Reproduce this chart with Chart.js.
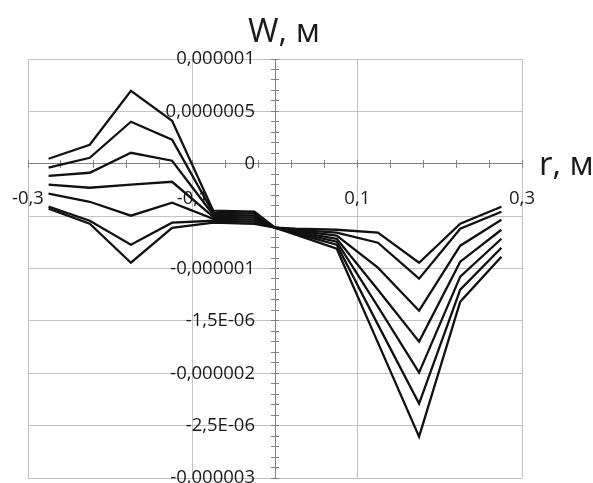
<!DOCTYPE html>
<html>
<head>
<meta charset="utf-8">
<script src="https://cdn.jsdelivr.net/npm/chart.js@4.4.0/dist/chart.umd.min.js"></script>
<style>
  body { margin: 0; background: #fff; }
</style>
</head>
<body>
<canvas id="deflection" width="593" height="483"></canvas>
<script>
// radius, m
const rValues = [-0.275, -0.225, -0.175, -0.125, -0.075, -0.025, 0, 0.025, 0.075, 0.125, 0.175, 0.225, 0.275];

// deflection W, m (one curve per load case)
const w1 = [0.048e-6, 0.181e-6, 0.697e-6, 0.410e-6, -0.448e-6, -0.458e-6, -0.61e-6, -0.677e-6, -0.811e-6, -1.708e-6, -2.605e-6, -1.317e-6, -0.887e-6];
const w2 = [-0.038e-6, 0.057e-6, 0.401e-6, 0.229e-6, -0.468e-6, -0.477e-6, -0.61e-6, -0.668e-6, -0.773e-6, -1.536e-6, -2.290e-6, -1.202e-6, -0.802e-6];
const w3 = [-0.115e-6, -0.086e-6, 0.105e-6, 0.029e-6, -0.487e-6, -0.496e-6, -0.61e-6, -0.658e-6, -0.744e-6, -1.365e-6, -1.994e-6, -1.078e-6, -0.716e-6];
const w4 = [-0.200e-6, -0.229e-6, -0.200e-6, -0.172e-6, -0.506e-6, -0.515e-6, -0.61e-6, -0.649e-6, -0.716e-6, -1.202e-6, -1.698e-6, -0.935e-6, -0.630e-6];
const w5 = [-0.286e-6, -0.363e-6, -0.496e-6, -0.372e-6, -0.525e-6, -0.534e-6, -0.61e-6, -0.639e-6, -0.687e-6, -0.992e-6, -1.403e-6, -0.782e-6, -0.534e-6];
const w6 = [-0.410e-6, -0.544e-6, -0.773e-6, -0.563e-6, -0.544e-6, -0.553e-6, -0.61e-6, -0.630e-6, -0.658e-6, -0.754e-6, -1.097e-6, -0.620e-6, -0.458e-6];
const w7 = [-0.429e-6, -0.573e-6, -0.945e-6, -0.611e-6, -0.563e-6, -0.573e-6, -0.61e-6, -0.620e-6, -0.630e-6, -0.658e-6, -0.945e-6, -0.573e-6, -0.410e-6];

const xTicks = [-0.3, -0.1, 0.1, 0.3];
const xTickLabels = ['-0,3', '-0,1', '0,1', '0,3'];
const yTicks = [1e-6, 5e-7, 0, -5e-7, -1e-6, -1.5e-6, -2e-6, -2.5e-6, -3e-6];
const yTickLabels = ['0,000001', '0,0000005', '0', '', '-0,000001', '-1,5E-06', '-0,000002', '-2,5E-06', '-0,000003'];

const gridGray = '#c2c2c2';
const axisGray = '#838383';
const textColor = '#1a1a1a';
const tickFont = { family: '"Open Sans"', size: 18.5 };

// minor tick marks (axis decoration only)
const xMinor = Array.from({ length: 16 }, (_, k) => -0.3 + 0.04 * k);
const yMinor = Array.from({ length: 41 }, (_, k) => -3e-6 + 1e-7 * k);

const setTicks = values => scale => { scale.ticks = values.map(value => ({ value })); };
const noSpace = scale => {
  if (scale.isHorizontal()) scale.height = 0; else scale.width = 0;
  scale.paddingLeft = scale.paddingRight = scale.paddingTop = scale.paddingBottom = 0;
};
const labelFor = (ticks, labels) => v => {
  const i = ticks.findIndex(t => Math.abs(t - v) < 1e-12);
  return i < 0 ? '' : labels[i];
};

function minorScale(axis, values, position, len) {
  return {
    axis, type: 'linear', position,
    min: axis === 'x' ? -0.3 : -3e-6,
    max: axis === 'x' ? 0.3 : 1e-6,
    afterBuildTicks: setTicks(values),
    afterFit: noSpace,
    grid: { drawOnChartArea: false, drawTicks: true, tickLength: len, tickColor: axisGray, tickWidth: 1 },
    border: { display: false },
    ticks: { display: false }
  };
}

const axisTitles = {
  id: 'axisTitles',
  afterDraw(chart) {
    const { ctx, chartArea, scales } = chart;
    ctx.save();
    ctx.fillStyle = textColor;
    ctx.font = '33px "Open Sans"';
    ctx.textBaseline = 'alphabetic';
    ctx.textAlign = 'center';
    ctx.fillText('W, м', scales.x.getPixelForValue(0) + 9, chartArea.top - 17);
    ctx.textAlign = 'left';
    ctx.fillText('r, м', chartArea.right + 17, scales.y.getPixelForValue(0) + 11);
    ctx.restore();
  }
};

const series = [w1, w2, w3, w4, w5, w6, w7];

new Chart(document.getElementById('deflection'), {
  type: 'line',
  data: {
    datasets: series.map((w, n) => ({
      label: 'W' + (n + 1),
      data: rValues.map((r, i) => ({ x: r, y: w[i] })),
      borderColor: '#111111',
      borderWidth: 2.3,
      pointRadius: 0,
      tension: 0,
      fill: false
    }))
  },
  options: {
    responsive: false,
    devicePixelRatio: 1,
    animation: false,
    layout: { padding: { left: 28, right: 71, top: 59, bottom: 5 } },
    plugins: { legend: { display: false }, tooltip: { enabled: false } },
    scales: {
      x: {
        type: 'linear', min: -0.3, max: 0.3,
        position: { y: 0 },
        afterBuildTicks: setTicks(xTicks),
        afterFit: noSpace,
        grid: { color: gridGray, drawTicks: false },
        border: { color: axisGray, width: 1 },
        ticks: { autoSkip: false, maxRotation: 0, padding: 24, font: tickFont, color: textColor,
                 callback: labelFor(xTicks, xTickLabels) }
      },
      y: {
        type: 'linear', min: -3e-6, max: 1e-6,
        position: { x: 0 },
        afterBuildTicks: setTicks(yTicks),
        afterFit: noSpace,
        grid: { color: gridGray, drawTicks: false },
        border: { color: axisGray, width: 1 },
        ticks: { display: false }
      },
      yLabels: {
        axis: 'y', type: 'linear', min: -3e-6, max: 1e-6,
        position: { x: -0.0243 },
        afterBuildTicks: setTicks(yTicks),
        afterFit: noSpace,
        grid: { display: false, drawTicks: false },
        border: { display: false },
        ticks: { padding: 0, font: tickFont, color: textColor, autoSkip: false,
                 callback: labelFor(yTicks, yTickLabels) }
      },
      xMinorDown: minorScale('x', xMinor, { y: 0 }, 4),
      xMinorUp: minorScale('x', xMinor, { y: 0 }, -4),
      yMinorLeft: minorScale('y', yMinor, { x: 0 }, 4),
      yMinorRight: minorScale('y', yMinor, { x: 0 }, -4)
    }
  },
  plugins: [axisTitles]
});
</script>
</body>
</html>
